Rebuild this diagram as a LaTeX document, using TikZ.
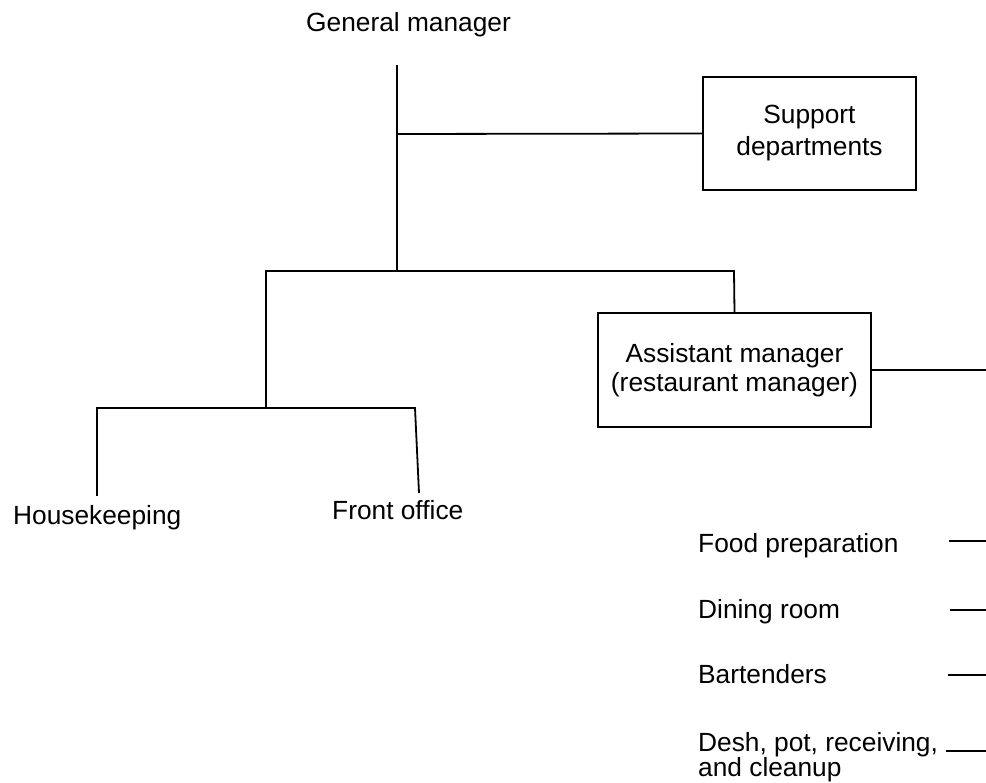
\documentclass[tikz,border=0pt]{standalone}
\usepackage{fontspec}
\setmainfont{Liberation Sans}
\begin{document}
\begin{tikzpicture}[x=1pt,y=-1pt,
  every node/.style={font=\fontsize{26.3}{32}\selectfont, inner sep=0pt},
  lbl/.style={anchor=base west},
  unit/.style={draw, line width=1.6pt, align=center},
  wire/.style={line width=1.8pt}]
\useasboundingbox (0,0) rectangle (986,783);

% titles and boxes
\node[lbl] (gm) at (306,32) {General manager};
\node[unit, minimum width=213pt, minimum height=113pt] (sup) at (809.5,133.5)
  {Support\\departments};
\node[unit, minimum width=273pt, minimum height=114pt,
      font=\fontsize{26.3}{29}\selectfont] (asst) at (734.5,370)
  {Assistant manager\\(restaurant manager)};

% departments
\node[lbl] (hk) at (13,525) {Housekeeping};
\node[lbl] (fo) at (332,520) {Front office};

\node[lbl] (food) at (698,553) {Food preparation};
\node[lbl] (dine) at (698,618) {Dining room};
\node[lbl] (bar) at (698,683) {Bartenders};
\node[lbl, align=left, font=\fontsize{26.3}{25.5}\selectfont] (dish) at (698,776.5)
  {Desh, pot, receiving,\\and cleanup};

% junction points of the tree
\coordinate (top) at (397,65);
\coordinate (jsup) at (397,134);
\coordinate (j1) at (397,271);
\coordinate (jl) at (266,271);
\coordinate (jr) at (734,271);
\coordinate (j2) at (266,408);
\coordinate (hkl) at (97,408);
\coordinate (hkend) at (97,496);
\coordinate (fol) at (415,408);
\coordinate (foend) at (419,493);
\coordinate (aend) at (986,370);

% right-hand leader lines
\coordinate (food0) at (949,541);
\coordinate (food1) at (986,541);
\coordinate (dine0) at (950,610);
\coordinate (dine1) at (986,610);
\coordinate (bar0) at (948,675);
\coordinate (bar1) at (986,675);
\coordinate (dish0) at (946,751);
\coordinate (dish1) at (986,751);

\draw[wire] (top) -- (j1);
\draw[wire] (jsup) -- (sup.west);
\draw[wire] (j2) -- (jl) -- (jr) -- (asst.north);
\draw[wire] (hkend) -- (hkl) -- (fol) -- (foend);
\draw[wire] (asst.east) -- (aend);

\draw[wire] (food0) -- (food1);
\draw[wire] (dine0) -- (dine1);
\draw[wire] (bar0) -- (bar1);
\draw[wire] (dish0) -- (dish1);
\end{tikzpicture}
\end{document}
